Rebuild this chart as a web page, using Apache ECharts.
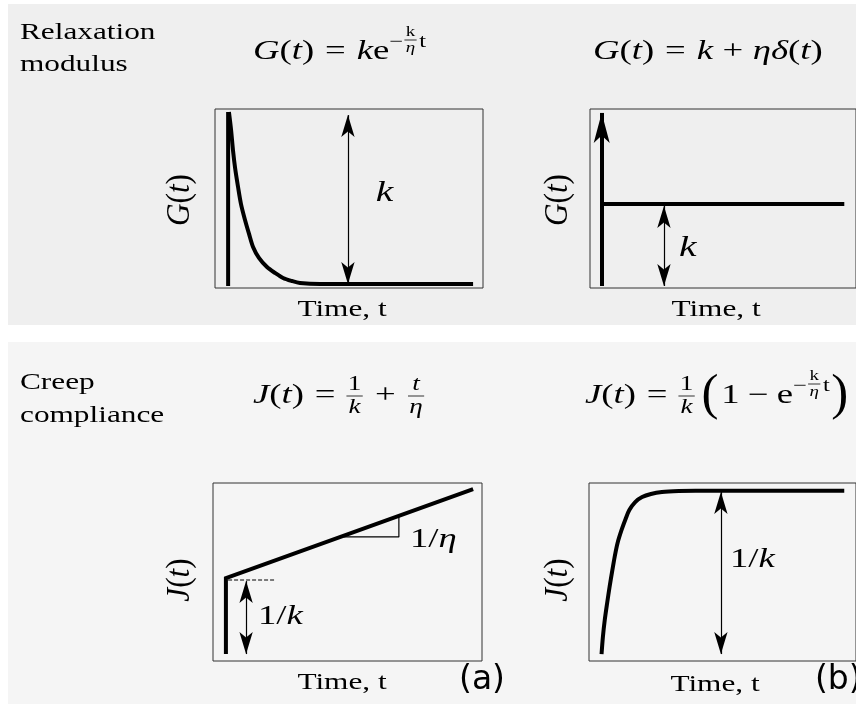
<!DOCTYPE html>
<html>
<head>
<meta charset="utf-8">
<script src="https://cdn.jsdelivr.net/npm/echarts@6/dist/echarts.min.js"></script>
<style>
  html, body { margin: 0; padding: 0; background: #fff; }
  #main { width: 856px; height: 704px; }
</style>
</head>
<body>
<div id="main"></div>
<script>
// data in axis units (0..100 in every panel)
var relaxJumpLine = [[4.9, 1.1], [4.9, 98.3]];
var relaxDecayCurve = [[5.2, 98.3], [6.0, 88.3], [6.7, 77.1], [7.5, 67.0], [8.6, 56.4], [9.7, 46.9],
    [11.2, 38.0], [12.7, 30.2], [14.2, 22.9], [16.4, 16.8], [19.4, 11.7], [22.4, 8.4], [25.4, 5.6],
    [28.7, 3.9], [31.7, 2.8], [39.2, 2.2], [60.0, 2.2], [96.3, 2.2]];
var relaxKArrow = [[49.6, 96.6], [49.6, 2.2]];

var voigtSpike = [[4.4, 1.1], [4.4, 97.8]];
var voigtLevel = [[4.4, 46.9], [95.6, 46.9]];
var voigtKArrow = [[27.8, 45.8], [27.8, 1.1]];

var creepPath = [[4.8, 3.9], [4.8, 46.6], [96.7, 96.6]];
var creepGuide = [[5.6, 45.5], [23.0, 45.5]];
var creepSlope = [[48.5, 69.7], [69.1, 69.7], [69.1, 81.5]];
var creepKArrow = [[12.3, 44.9], [12.3, 3.9]];

var retardCurve = [[4.7, 3.9], [5.2, 13.5], [5.9, 23.0], [6.8, 32.6], [7.7, 41.6], [8.7, 50.6],
    [9.6, 58.4], [10.7, 66.3], [12.2, 73.6], [13.7, 79.8], [15.1, 84.8], [17.3, 89.3], [19.9, 92.1],
    [23.2, 93.8], [27.3, 94.9], [33.6, 95.5], [39.9, 95.7], [63.1, 95.7], [95.6, 95.7]];
var retardArrow = [[49.4, 95.0], [49.4, 3.9]];

// text inside the panels: [panel, x, y, text]
var plotNotes = [
    [0, 60, 53, 'k'],
    [1, 33.5, 22.3, 'k'],
    [2, 16.7, 24.7, '1/k'],
    [2, 73.2, 68, '1/η'],
    [3, 52.8, 56.7, '1/k']
];

var INK = '#000';
var SERIF = '"Liberation Serif", "Times New Roman", serif';
var SX = 1.36; // the original lettering is wider than Times
var FS = 23;   // plain text
var EQ = 27;   // formulas

var chart = echarts.init(document.getElementById('main'));

var panels = [
    {left: 215, top: 109, width: 268, height: 179},
    {left: 590, top: 109, width: 270, height: 179},
    {left: 213, top: 483, width: 269, height: 178},
    {left: 589, top: 483, width: 271, height: 178}
];

function curve(idx, data, extra) {
    var s = {
        type: 'line', xAxisIndex: idx, yAxisIndex: idx, data: data,
        showSymbol: false, symbol: 'none', silent: true,
        lineStyle: {color: INK, width: 4, cap: 'butt', join: 'miter'}
    };
    for (var k in extra) s[k] = extra[k];
    return s;
}
function arrow(idx, pts, width, ends, size) {
    return {
        type: 'line', xAxisIndex: idx, yAxisIndex: idx, data: [], silent: true,
        markLine: {
            silent: true, animation: false,
            symbol: ends, symbolSize: size,
            label: {show: false},
            lineStyle: {color: INK, width: width, type: 'solid'},
            emphasis: {disabled: true},
            data: [[{coord: pts[0]}, {coord: pts[1]}]]
        }
    };
}

var option = {
    backgroundColor: '#fff',
    animation: false,
    grid: panels.map(function (p) {
        return {left: p.left, top: p.top, width: p.width, height: p.height,
            show: true, borderColor: '#333', borderWidth: 1, backgroundColor: 'transparent'};
    }),
    xAxis: panels.map(function (p, i) {
        return {type: 'value', gridIndex: i, min: 0, max: 100, show: false};
    }),
    yAxis: panels.map(function (p, i) {
        return {type: 'value', gridIndex: i, min: 0, max: 100, show: false};
    }),
    series: [
        curve(0, relaxJumpLine),
        curve(0, relaxDecayCurve, {smooth: 0.3}),
        arrow(0, relaxKArrow, 1.2, ['arrow', 'arrow'], [10, 22]),

        arrow(1, voigtSpike, 4, ['none', 'arrow'], [12, 30]),
        curve(1, voigtLevel),
        arrow(1, voigtKArrow, 1.2, ['arrow', 'arrow'], [10, 22]),

        curve(2, creepPath),
        curve(2, creepGuide, {lineStyle: {color: INK, width: 1, type: [4, 2]}}),
        curve(2, creepSlope, {lineStyle: {color: INK, width: 1.2}}),
        arrow(2, creepKArrow, 1.2, ['arrow', 'arrow'], [10, 22]),

        curve(3, retardCurve, {smooth: 0.3}),
        arrow(3, retardArrow, 1.2, ['arrow', 'arrow'], [10, 22])
    ]
};
chart.setOption(option);

// ---- lettering ----
var measureCtx = document.createElement('canvas').getContext('2d');
function textWidth(t, size, italic) {
    measureCtx.font = (italic ? 'italic ' : '') + size + 'px ' + SERIF;
    return measureCtx.measureText(t).width;
}
function txt(t, x, y, size, italic, align, sx) {
    var el = {type: 'text', x: x, y: y, silent: true, style: {
        text: t, fontSize: size, fontFamily: SERIF, fontStyle: italic ? 'italic' : 'normal',
        fill: INK, align: align || 'left', verticalAlign: 'middle'}};
    if (sx) el.scaleX = sx;
    return el;
}
// lay out a formula from pieces left to right
function formula(parts, x, y, opt) {
    opt = opt || {};
    var kids = [], cx = 0;
    parts.forEach(function (p) {
        if (p.gap) { cx += p.gap; return; }
        var s = p.s || EQ, dy = p.dy || 0;
        if (p.frac) {
            var wn = textWidth(p.frac[0], s, p.ni), wd = textWidth(p.frac[1], s, p.di);
            var w = Math.max(wn, wd) + 2;
            kids.push(txt(p.frac[0], cx + w / 2, dy - s * 0.55, s, p.ni, 'center'));
            kids.push(txt(p.frac[1], cx + w / 2, dy + s * 0.6, s, p.di, 'center'));
            kids.push({type: 'line', silent: true, shape: {x1: cx, y1: dy, x2: cx + w, y2: dy},
                style: {stroke: INK, lineWidth: 0.8}});
            cx += w;
        } else {
            var k = p.k || 1; // narrower glyph inside the stretched group
            kids.push(txt(p.t, cx, dy, s, p.i, 'left', p.k));
            cx += textWidth(p.t, s, p.i) * k;
        }
    });
    if (opt.center) {
        kids.forEach(function (k) {
            if (k.type === 'line') { k.shape.x1 -= cx / 2; k.shape.x2 -= cx / 2; }
            else k.x -= cx / 2;
        });
    }
    return {type: 'group', x: x, y: y, scaleX: opt.sx || SX, scaleY: opt.sy || 1,
        rotation: opt.rot || 0, children: kids};
}
function I(t, extra) { var o = {t: t, i: true}; for (var k in extra) o[k] = extra[k]; return o; }
function R(t, extra) { var o = {t: t}; for (var k in extra) o[k] = extra[k]; return o; }
function G(w) { return {gap: w}; }
function plain(t) { return [R(t, {s: FS})]; }

var head = function (f) { return [I(f), R('('), I('t'), R(')'), G(8), R('='), G(8)]; };
var expo = [R('−', {s: 18, dy: -10}), G(1), {frac: ['k', 'η'], s: 14, dy: -12, di: true}, G(2),
    R('t', {s: 18, dy: -10})];

var graphics = [
    {type: 'rect', shape: {x: 8, y: 4, width: 848, height: 321}, style: {fill: '#efefef'}, z: -10, silent: true},
    {type: 'rect', shape: {x: 8, y: 342, width: 848, height: 362}, style: {fill: '#f5f5f5'}, z: -10, silent: true},

    formula(plain('Relaxation'), 20, 33),
    formula(plain('modulus'), 20, 65),
    formula(plain('Creep'), 20, 383),
    formula(plain('compliance'), 20, 416),

    formula(head('G').concat([I('k'), R('e')], expo), 253, 52),
    formula(head('G').concat([I('k'), G(7), R('+'), G(7), I('η'), I('δ'), R('('), I('t'), R(')')]), 593, 52),
    formula(head('J').concat([{frac: ['1', 'k'], s: 20, di: true}, G(9), R('+'), G(9),
        {frac: ['t', 'η'], s: 20, ni: true, di: true}]), 253, 396),
    formula(head('J').concat([{frac: ['1', 'k'], s: 20, di: true}, G(5), R('(', {s: 50, k: 0.75}), G(2),
        R('1'), G(6), R('−'), G(6), R('e')], expo, [G(1), R(')', {s: 50, k: 0.75})]), 585, 396),

    {type: 'text', x: 482, y: 680, silent: true, style: {text: '(a)', fontSize: 33,
        fontFamily: '"DejaVu Sans", sans-serif', fill: INK, align: 'center', verticalAlign: 'middle'}},
    {type: 'text', x: 815, y: 680, silent: true, style: {text: '(b)', fontSize: 33,
        fontFamily: '"DejaVu Sans", sans-serif', fill: INK, align: 'left', verticalAlign: 'middle'}}
];

// axis titles
[[342, 310], [716, 310], [342, 683], [715, 685]].forEach(function (c) {
    graphics.push(formula(plain('Time, t'), c[0], c[1], {center: true}));
});
[[180, 200, 'G'], [558, 200, 'G'], [180, 580, 'J'], [558, 580, 'J']].forEach(function (c) {
    graphics.push(formula([I(c[2], {s: 26}), R('(', {s: 26}), I('t', {s: 26}), R(')', {s: 26})],
        c[0], c[1], {center: true, rot: Math.PI / 2, sx: 1.2, sy: 1.3}));
});

// notes placed through the panel scales
plotNotes.forEach(function (n) {
    var px = chart.convertToPixel({gridIndex: n[0]}, [n[1], n[2]]);
    var parts;
    if (n[3] === 'k') parts = [I('k', {s: 29})];
    else parts = [R('1', {s: 27}), R('/', {s: 27}), I(n[3].slice(2), {s: 27})];
    graphics.push(formula(parts, px[0], px[1]));
});

chart.setOption({graphic: graphics});
</script>
</body>
</html>
